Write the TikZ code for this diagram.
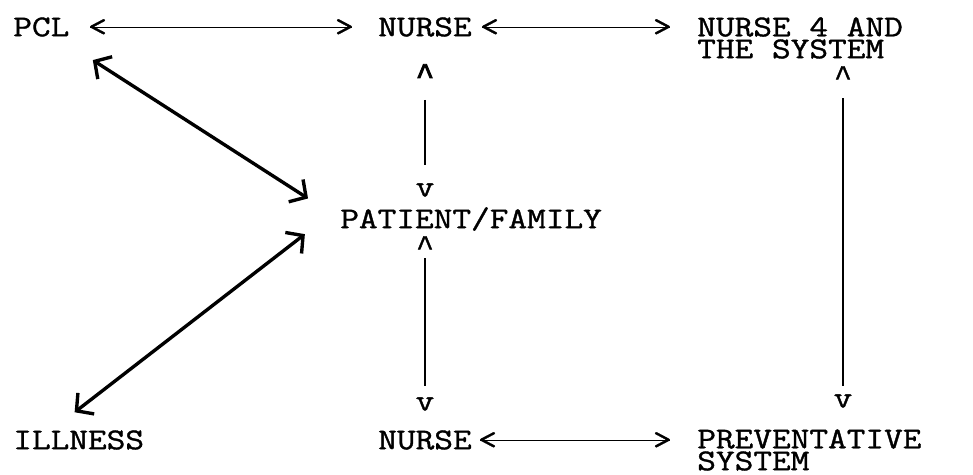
\documentclass[tikz,border=0pt]{standalone}
\usepackage{fontspec}
\newfontfamily\typefont[FakeStretch=1.2, FakeBold=1.2]{Latin Modern Mono}
\newfontfamily\caretfont[FakeBold=1.2]{Liberation Mono}
\newfontfamily\caretheavy[FakeBold=3]{Liberation Mono}
\usetikzlibrary{arrows.meta}
\begin{document}
\begin{tikzpicture}[x=0.025cm, y=-0.025cm,
  word/.style={anchor=west, inner sep=0pt, align=left, font=\typefont\fontsize{21.5pt}{15.6pt}\selectfont},
  glyph/.style={inner sep=0pt, font=\typefont\fontsize{21.5pt}{21.5pt}\selectfont},
  caret/.style={inner sep=0pt, anchor=north, font=\caretfont\fontsize{21pt}{21pt}\selectfont},
  typed/.style={line width=1pt, shorten <=0.06cm, shorten >=0.06cm},
  stem/.style={line width=1.1pt},
  pen/.style={line width=2.4pt, {Straight Barb[angle=95:0.45cm]}-{Straight Barb[angle=95:0.45cm]}}]
\newcommand\midcol{425}
\newcommand\rightcol{843}
\useasboundingbox (0,0) rectangle (973,474);

% typed words
\node [word] (pcl) at (13, 27) {PCL};
\node [word] (nurseTop) at (378, 27) {NURSE};
\node [word] (nurseSys) at (697, 38) {NURSE 4 AND\\THE SYSTEM};
\node [word] (patient) at (340, 219) {PATIENT/FAMILY};
\node [word] (illness) at (13, 440) {ILLNESS};
\node [word] (nurseLow) at (378, 440) {NURSE};
\node [word] (prevent) at (697, 450) {PREVENTATIVE\\SYSTEM};

% typed arrows, left to right
\node [glyph, anchor=base west] (ltA) at (88, 36) {<};
\node [glyph, anchor=base east] (gtA) at (354, 36) {>};
\draw [typed] (ltA.west) -- (gtA.east);
\node [glyph, anchor=base west] (ltB) at (480, 36) {<};
\node [glyph, anchor=base east] (gtB) at (672, 36) {>};
\draw [typed] (ltB.west) -- (gtB.east);
\node [glyph, anchor=base west] (ltC) at (478, 449) {<};
\node [glyph, anchor=base east] (gtC) at (672, 449) {>};
\draw [typed] (ltC.west) -- (gtC.east);

% typed arrows, up and down
\node [caret, font=\caretheavy\fontsize{22pt}{22pt}\selectfont] (capTop) at (\midcol, 64) {\textasciicircum};
\node [glyph] (vTop) at (\midcol, 190) {v};
\draw [stem, shorten <=0.375cm, shorten >=0.46cm] (capTop.south) -- (vTop.north);
\node [caret] (capMid) at (\midcol, 236) {\textasciicircum};
\node [glyph] (vMid) at (\midcol, 404) {v};
\draw [stem, shorten <=0.06cm, shorten >=0.29cm] (capMid.south) -- (vMid.north);
\node [caret] (capRight) at (\rightcol, 66) {\textasciicircum};
\node [glyph] (vRight) at (\rightcol, 401) {v};
\draw [stem, shorten <=0.3cm, shorten >=0.21cm] (capRight.south) -- (vRight.north);

% pen arrows
\draw [pen, shorten <=1.53cm, shorten >=0.95cm] (pcl.center) -- (patient.west);
\draw [pen, shorten <=1.11cm, shorten >=0.73cm] (patient.north west) -- (illness.160);
\end{tikzpicture}
\end{document}
